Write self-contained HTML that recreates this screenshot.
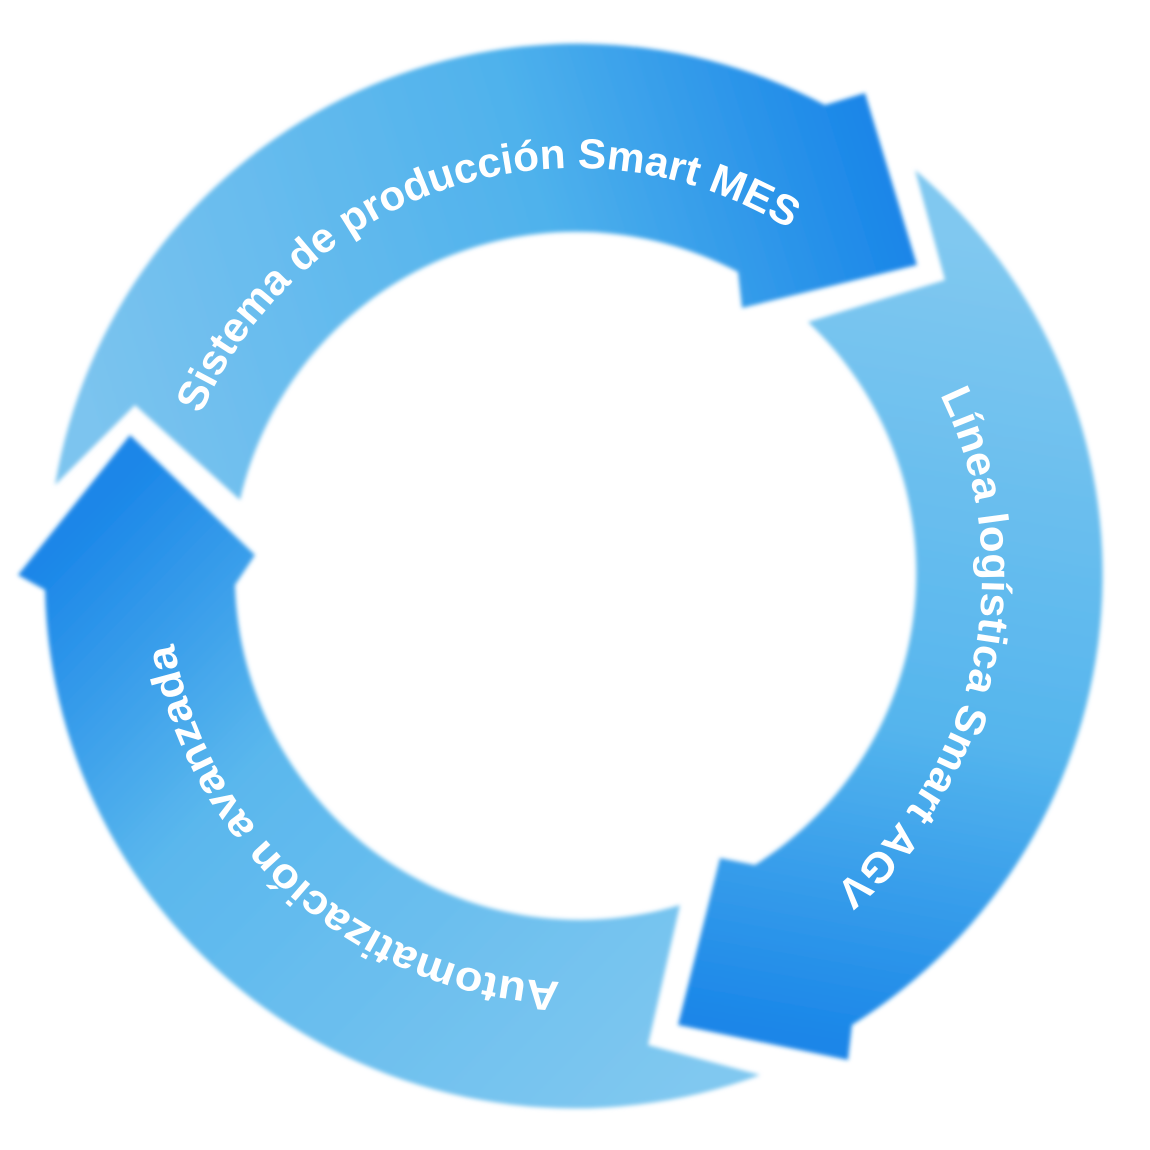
<!DOCTYPE html>
<html><head><meta charset="utf-8"><style>
html,body{margin:0;padding:0;background:#fff;}
svg{display:block;}
text{font-family:"Liberation Sans",sans-serif;font-weight:bold;fill:#fff;font-size:42px;}
</style></head><body>
<svg width="1150" height="1150" viewBox="0 0 1150 1150" xmlns="http://www.w3.org/2000/svg">
<defs>
<filter id="soft" x="-5%" y="-5%" width="110%" height="110%"><feGaussianBlur stdDeviation="2"/></filter>
<linearGradient id="g1" gradientUnits="userSpaceOnUse" x1="100" y1="480" x2="900" y2="230">
<stop offset="0" stop-color="#7cc4ef"/><stop offset="0.6" stop-color="#4fb2ec"/><stop offset="1" stop-color="#1a86e8"/></linearGradient>
<linearGradient id="g2" gradientUnits="userSpaceOnUse" x1="900" y1="230" x2="760" y2="1030">
<stop offset="0" stop-color="#80c8f0"/><stop offset="0.6" stop-color="#55b5ed"/><stop offset="1" stop-color="#1a86e8"/></linearGradient>
<linearGradient id="g3" gradientUnits="userSpaceOnUse" x1="720" y1="1060" x2="120" y2="480">
<stop offset="0" stop-color="#80c8f0"/><stop offset="0.65" stop-color="#5ab7ed"/><stop offset="1" stop-color="#1a86e8"/></linearGradient>
<path id="circ" d="M168,575 A407,407 0 1 1 982,575 A407,407 0 1 1 168,575 A407,407 0 1 1 982,575 A407,407 0 1 1 168,575"/>
</defs>
<g filter="url(#soft)">
<path fill="url(#g1)" d="M55,485 L135,405 L240,500 A345,345 0 0 1 738,272 L742,308 L917,265 L865,93 L825,105 A530,530 0 0 0 55,485 Z"/>
<path fill="url(#g2)" d="M915,170 L945,280 L808,322 A345,345 0 0 1 755,865 L720,858 L678,1025 L848,1060 L852,1025 A530,530 0 0 0 915,170 Z"/>
<path fill="url(#g3)" d="M760,1075 L648,1045 L680,905 A345,345 0 0 1 235,585 L255,555 L130,435 L18,575 L45,590 A530,530 0 0 0 760,1075 Z"/>
</g>
<text><textPath href="#circ" startOffset="515" text-anchor="middle" textLength="700" lengthAdjust="spacingAndGlyphs">Sistema de producción Smart MES</textPath></text>
<text><textPath href="#circ" startOffset="1364" text-anchor="middle" textLength="545" lengthAdjust="spacingAndGlyphs">Línea logística Smart AGV</textPath></text>
<text><textPath href="#circ" startOffset="2210" text-anchor="middle" textLength="555" lengthAdjust="spacingAndGlyphs">Automatización avanzada</textPath></text>
</svg>
</body></html>
